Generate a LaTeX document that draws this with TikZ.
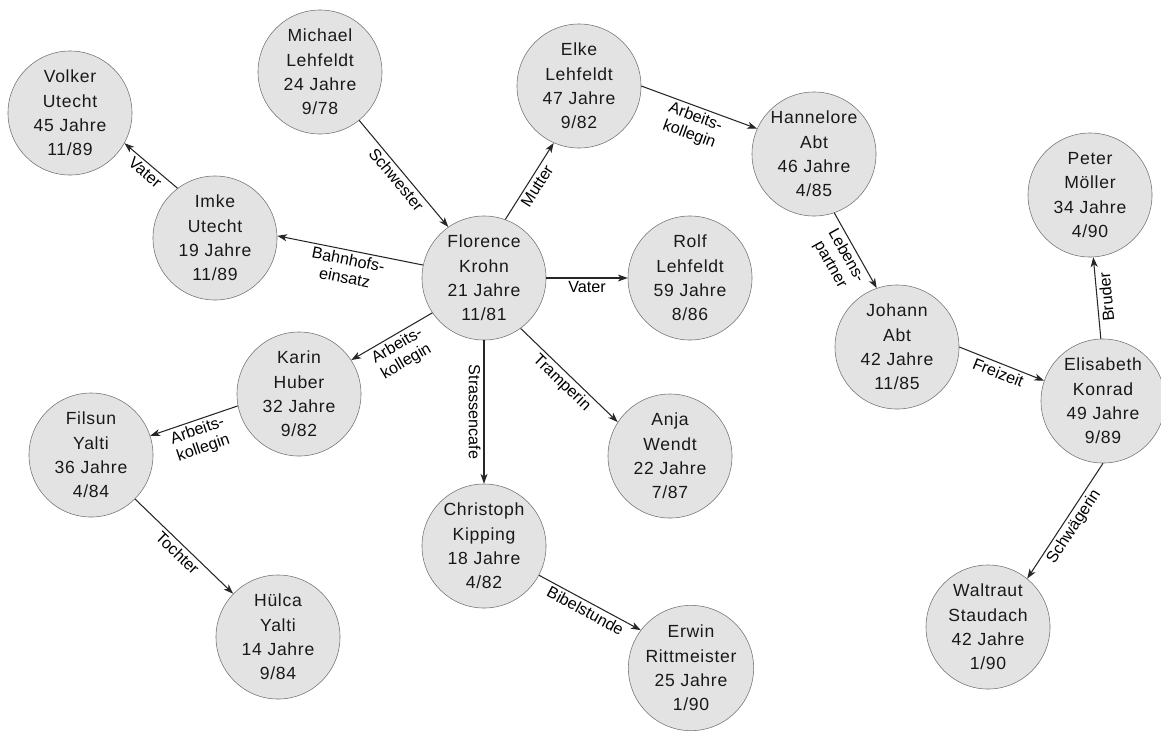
\documentclass[tikz,border=0pt]{standalone}
\usepackage{fontspec}
\setmainfont{Liberation Sans}
\newfontfamily\persfont[LetterSpace=4]{Liberation Sans}
\usetikzlibrary{arrows.meta}

\begin{document}
\begin{tikzpicture}[x=0.025cm, y=-0.025cm,
	person/.style={circle, draw=black!55, fill=black!11, minimum size=3.1cm, inner sep=0pt, align=center, text=black!90, font=\persfont\fontsize{12.5}{17.4}\selectfont},
	rel/.style={-{Stealth[length=7pt, width=5pt, inset=2pt]}, line width=0.75pt, black!85},
	lab/.style={sloped, below, inner sep=2pt, align=center, text=black, font=\fontsize{11.5}{13}\selectfont}]
	\useasboundingbox (0,0) rectangle (1161,731);
	
	\node[person] (volker) at (70,113) {Volker\\Utecht\\45 Jahre\\11/89};
	\node[person] (michael) at (320,72) {Michael\\Lehfeldt\\24 Jahre\\9/78};
	\node[person] (elke) at (579,86) {Elke\\Lehfeldt\\47 Jahre\\9/82};
	\node[person] (hanne) at (814,154) {Hannelore\\Abt\\46 Jahre\\4/85};
	\node[person] (peter) at (1090,195) {Peter\\Möller\\34 Jahre\\4/90};
	\node[person] (imke) at (215,238) {Imke\\Utecht\\19 Jahre\\11/89};
	\node[person] (flo) at (484,278) {Florence\\Krohn\\21 Jahre\\11/81};
	\node[person] (rolf) at (690,278) {Rolf\\Lehfeldt\\59 Jahre\\8/86};
	\node[person] (johann) at (897,347) {Johann\\Abt\\42 Jahre\\11/85};
	\node[person] (elis) at (1103,401) {Elisabeth\\Konrad\\49 Jahre\\9/89};
	\node[person] (karin) at (299,394) {Karin\\Huber\\32 Jahre\\9/82};
	\node[person] (filsun) at (91,455) {Filsun\\Yalti\\36 Jahre\\4/84};
	\node[person] (anja) at (670,456) {Anja\\Wendt\\22 Jahre\\7/87};
	\node[person] (chris) at (484,546) {Christoph\\Kipping\\18 Jahre\\4/82};
	\node[person] (hulca) at (278,637) {Hülca\\Yalti\\14 Jahre\\9/84};
	\node[person] (erwin) at (691,668) {Erwin\\Rittmeister\\25 Jahre\\1/90};
	\node[person] (walt) at (988,627) {Waltraut\\Staudach\\42 Jahre\\1/90};
	
	\draw[rel] (imke.127) -- node[lab] {Vater} (volker.-29);
	\draw[rel] (michael.-51) -- node[lab] {Schwester} (flo.125);
	\draw[rel] (flo.70) -- node[lab] {Mutter} (elke.-114);
	\draw[rel] (flo.168) -- node[lab] {Bahnhofs-\\einsatz} (imke.2);
	\draw[rel] (flo) -- node[lab] {Vater} (rolf);
	\draw[rel] (elke.0) -- node[lab] {Arbeits-\\kollegin} (hanne.156);
	\draw[rel] (hanne.-71) -- node[lab] {Lebens-\\partner} (johann.109);
	\draw[rel] (johann.0) -- node[lab] {Freizeit} (elis.161);
	\draw[rel] (elis.92) -- node[lab, allow upside down] {Bruder} (peter.-87);
	\draw[rel] (elis.-90) -- node[lab] {Schwägerin} (walt.51);
	\draw[rel] (flo.214) -- node[lab] {Arbeits-\\kollegin} (karin.33);
	\draw[rel] (karin.191) -- node[lab] {Arbeits-\\kollegin} (filsun.18);
	\draw[rel] (filsun.-45) -- node[lab] {Tochter} (hulca.136);
	\draw[rel] (flo) -- node[lab, allow upside down] {Strassencafe} (chris);
	\draw[rel] (flo.-54) -- node[lab] {Tramperin} (anja.147);
	\draw[rel] (chris.-28) -- node[lab] {Bibelstunde} (erwin.143);
\end{tikzpicture}
\end{document}
